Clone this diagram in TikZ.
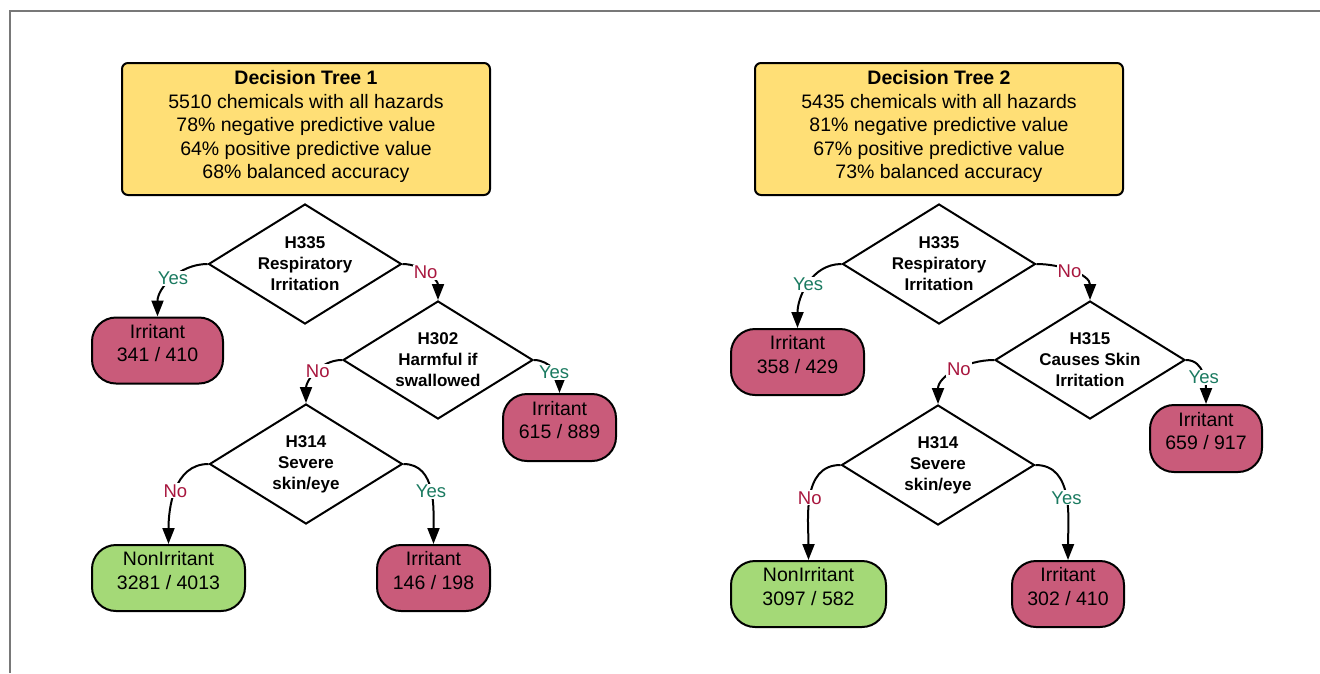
\documentclass[tikz,border=0pt]{standalone}
\usepackage{fontspec}
\setmainfont{Liberation Sans}
\usepackage{tikz}
\usetikzlibrary{shapes.geometric,arrows.meta}

\definecolor{boxyellow}{RGB}{255,223,118}
\definecolor{irrred}{RGB}{201,91,122}
\definecolor{nonirrgreen}{RGB}{164,217,119}
\definecolor{yesgreen}{RGB}{26,122,96}
\definecolor{nored}{RGB}{168,22,62}
\definecolor{framegray}{RGB}{120,120,120}

\begin{document}
\begin{tikzpicture}[x=1pt, y=-1pt,
  summary/.style={draw, line width=2pt, fill=boxyellow, rounded corners=6pt, minimum width=368pt, minimum height=132pt, align=center, text depth=9pt, font=\fontsize{19.5}{23.5}\selectfont},
  question/.style={draw, line width=2pt, diamond, aspect=1.6, inner sep=0pt, minimum width=193pt, minimum height=120pt, align=center, font=\bfseries\fontsize{17}{21}\selectfont},
  irritant/.style={draw, line width=2pt, fill=irrred, rounded corners=24pt, minimum height=66pt, align=center, text depth=15pt, font=\fontsize{19.5}{23.5}\selectfont},
  nonirritant/.style={irritant, fill=nonirrgreen},
  branch/.style={line width=2pt, -{Triangle[length=16pt,width=12pt]}},
  yes/.style={fill=white, text=yesgreen, inner sep=1pt, font=\fontsize{18.5}{20}\selectfont},
  no/.style={yes, text=nored}]

\useasboundingbox (0,0) rectangle (1320,673);
\draw[framegray, line width=1.5pt] (10,673) -- (10,11) -- (1320,11);

% tree 1
\node [summary] (T1) at (306,129) {\textbf{Decision Tree 1}\\5510 chemicals with all hazards\\78\% negative predictive value\\64\% positive predictive value\\68\% balanced accuracy};
\node [question] (Q1a) at (305,264) {H335\\Respiratory\\Irritation};
\node [irritant, minimum width=131pt] (R1a) at (157.5,350.5) {Irritant\\341 / 410};
\node [question, minimum width=190pt, minimum height=118pt] (Q1b) at (438,360) {H302\\Harmful if\\swallowed};
\node [irritant, minimum width=113pt, minimum height=67pt] (R1b) at (559.5,427.5) {Irritant\\615 / 889};
\node [question] (Q1c) at (306,464) {H314\\Severe\\skin/eye};
\node [nonirritant, minimum width=153pt] (R1c) at (168.5,578) {NonIrritant\\3281 / 4013};
\node [irritant, minimum width=113pt] (R1d) at (433.5,578) {Irritant\\146 / 198};

\draw[branch] (Q1a.west) to[out=180,in=90] node[yes, pos=0.48]{Yes} (R1a.north);
\draw[branch] (Q1a.east) to[out=0,in=90] node[no, pos=0.45]{No} (Q1b.north);
\draw[branch] (Q1b.east) to[out=0,in=90] node[yes, pos=0.55]{Yes} (R1b.north);
\draw[branch] (Q1b.west) to[out=180,in=90] node[no, pos=0.45]{No} (Q1c.north);
\draw[branch] (Q1c.west) to[out=180,in=90] node[no, pos=0.5]{No} (R1c.north);
\draw[branch] (Q1c.east) to[out=0,in=90] node[yes, pos=0.5]{Yes} (R1d.north);

% tree 2
\node [summary] (T2) at (939,129) {\textbf{Decision Tree 2}\\5435 chemicals with all hazards\\81\% negative predictive value\\67\% positive predictive value\\73\% balanced accuracy};
\node [question] (Q2a) at (939,264) {H335\\Respiratory\\Irritation};
\node [irritant, minimum width=133pt] (R2a) at (797.5,362) {Irritant\\358 / 429};
\node [question, minimum width=190pt, minimum height=118pt] (Q2b) at (1090,360) {H315\\Causes Skin\\Irritation};
\node [irritant, minimum width=112pt, minimum height=67pt] (R2b) at (1206,438.5) {Irritant\\659 / 917};
\node [question] (Q2c) at (938,465) {H314\\Severe\\skin/eye};
\node [nonirritant, minimum width=155pt] (R2c) at (808.5,594) {NonIrritant\\3097 / 582};
\node [irritant, minimum width=112pt] (R2d) at (1068,594) {Irritant\\302 / 410};

\draw[branch] (Q2a.west) to[out=180,in=90] node[yes, pos=0.5]{Yes} (R2a.north);
\draw[branch] (Q2a.east) to[out=0,in=90] node[no, pos=0.45]{No} (Q2b.north);
\draw[branch] (Q2b.east) to[out=0,in=90] node[yes, pos=0.55]{Yes} (R2b.north);
\draw[branch] (Q2b.west) to[out=180,in=90] node[no, pos=0.45]{No} (Q2c.north);
\draw[branch] (Q2c.west) to[out=180,in=90] node[no, pos=0.5]{No} (R2c.north);
\draw[branch] (Q2c.east) to[out=0,in=90] node[yes, pos=0.5]{Yes} (R2d.north);
\end{tikzpicture}
\end{document}
